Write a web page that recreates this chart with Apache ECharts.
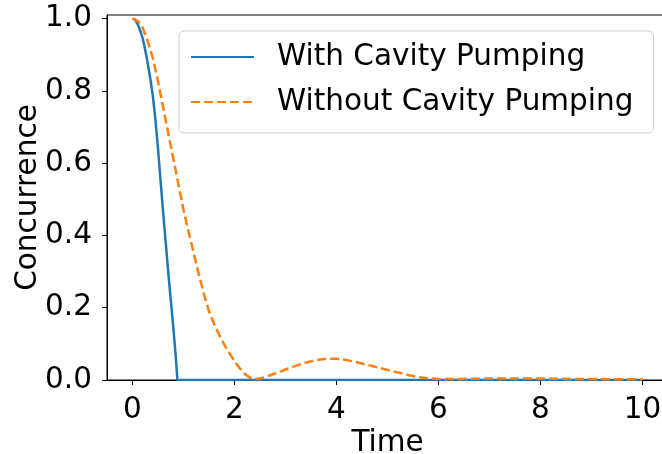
<!DOCTYPE html>
<html>
<head>
<meta charset="utf-8">
<script src="https://cdn.jsdelivr.net/npm/echarts@6/dist/echarts.min.js"></script>
<style>
html,body{margin:0;padding:0;background:#fff;}
#chart{width:662px;height:454px;}
</style>
</head>
<body>
<div id="chart"></div>
<script>
const seriesNames = ['With Cavity Pumping', 'Without Cavity Pumping'];
const timeWith = [0, 0.05, 0.1, 0.15, 0.2, 0.25, 0.3, 0.35, 0.4, 0.45, 0.5, 0.55, 0.6, 0.65, 0.7, 0.75, 0.8, 0.85, 0.88, 1, 2, 4, 6, 8, 10];
const concWith = [1.0, 0.997, 0.985, 0.968, 0.945, 0.913, 0.875, 0.833, 0.785, 0.72, 0.64, 0.552, 0.465, 0.383, 0.30, 0.222, 0.146, 0.062, 0.0, 0, 0, 0, 0, 0, 0];
const timeWithout = [0, 0.1, 0.2, 0.3, 0.4, 0.5, 0.6, 0.7, 0.8, 0.9, 1.0, 1.1, 1.2, 1.3, 1.4, 1.5, 1.6, 1.7, 1.8, 1.9, 2.0, 2.1, 2.2, 2.3, 2.4, 2.5, 2.6, 2.7, 2.8, 2.9, 3.0, 3.2, 3.4, 3.6, 3.8, 4.0, 4.2, 4.4, 4.6, 4.8, 5.0, 5.2, 5.4, 5.6, 5.8, 6.0, 6.5, 7.0, 7.5, 8.0, 8.5, 9.0, 9.5, 10];
const concWithout = [1.0, 0.994, 0.975, 0.937, 0.89, 0.827, 0.755, 0.684, 0.613, 0.542, 0.471, 0.41, 0.351, 0.293, 0.238, 0.19, 0.155, 0.125, 0.098, 0.074, 0.052, 0.033, 0.017, 0.007, 0.003, 0.004, 0.008, 0.013, 0.018, 0.023, 0.029, 0.039, 0.048, 0.055, 0.059, 0.059, 0.055, 0.049, 0.042, 0.035, 0.028, 0.021, 0.014, 0.008, 0.005, 0.003, 0.003, 0.004, 0.004, 0.004, 0.003, 0.003, 0.002, 0.002];
const xTicks = [0, 2, 4, 6, 8, 10];
const yTicks = [0, 0.2, 0.4, 0.6, 0.8, 1.0];
const xLabel = 'Time';
const yLabel = 'Concurrence';

const zip = (a, b) => a.map((v, i) => [v, b[i]]);
const font = 'DejaVu Sans';
const fs = 29.5;

const chart = echarts.init(document.getElementById('chart'), null, {renderer: 'canvas'});
chart.setOption({
  animation: false,
  backgroundColor: '#fff',
  grid: {left: 107, top: 15, width: 561, bottom: 74, containLabel: false, outerBoundsMode: 'none',
         show: true, borderColor: '#000', borderWidth: 1, backgroundColor: 'transparent'},
  legend: {
    left: 179, top: 31, orient: 'vertical',
    padding: [11, 20, 16, 11],
    itemWidth: 63, itemHeight: 30, itemGap: 15,
    borderColor: '#cccccc', borderWidth: 1, borderRadius: 5,
    backgroundColor: 'rgba(255,255,255,0.8)',
    itemStyle: {opacity: 0, borderWidth: 0},
    textStyle: {fontFamily: font, fontSize: fs, color: '#000', padding: [0, 0, 0, 18], lineHeight: 30},
    data: seriesNames
  },
  xAxis: {
    type: 'value', min: -0.5, max: 10.5,
    name: xLabel, nameLocation: 'middle', nameGap: 48, nameMoveOverlap: false,
    nameTextStyle: {fontFamily: font, fontSize: fs, color: '#000'},
    axisLine: {show: true, onZero: false, lineStyle: {color: '#000', width: 1}},
    axisTick: {show: true, length: 5, lineStyle: {color: '#000'}, customValues: xTicks},
    axisLabel: {fontFamily: font, fontSize: fs, color: '#000', margin: 15, customValues: xTicks},
    splitLine: {show: false}
  },
  yAxis: {
    type: 'value', min: 0, max: 1.01,
    name: yLabel, nameLocation: 'middle', nameGap: 64, nameMoveOverlap: false,
    nameTextStyle: {fontFamily: font, fontSize: fs, color: '#000'},
    axisLine: {show: true, onZero: false, lineStyle: {color: '#000', width: 1}},
    axisTick: {show: true, length: 5, lineStyle: {color: '#000'}, customValues: yTicks},
    axisLabel: {fontFamily: font, fontSize: fs, color: '#000', margin: 15, customValues: yTicks, formatter: v => v.toFixed(1)},
    splitLine: {show: false}
  },
  series: [
    {name: seriesNames[0], type: 'line', data: zip(timeWith, concWith), symbol: 'none', smooth: false,
     lineStyle: {color: '#1f77b4', width: 2.5}, itemStyle: {color: '#1f77b4'}},
    {name: seriesNames[1], type: 'line', data: zip(timeWithout, concWithout), symbol: 'none', smooth: false,
     lineStyle: {color: '#ff7f0e', width: 2.5, type: [9, 4]}, itemStyle: {color: '#ff7f0e'}}
  ]
});
</script>
</body>
</html>
